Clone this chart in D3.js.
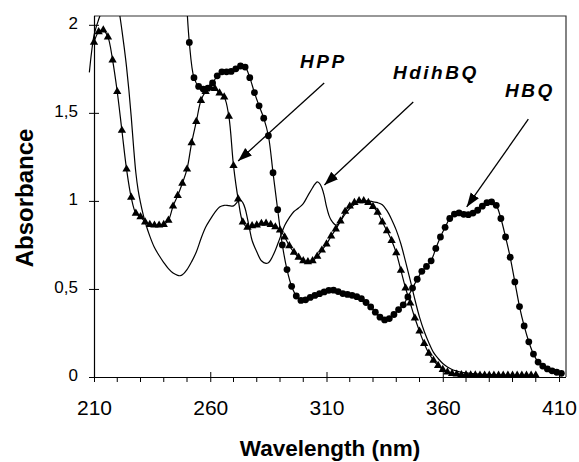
<!DOCTYPE html>
<html>
<head>
<meta charset="utf-8">
<script src="https://cdn.jsdelivr.net/npm/d3@7"></script>
<style>
	body { margin: 0; background: #fff; }
	svg { display: block; font-family: 'Liberation Sans', Arial, sans-serif; }
</style>
</head>
<body>
<svg id="main-vis"></svg>
<script>
// HPP (TRIANGLES), EVERY 2 NM
const hpp_wl = d3.range(210, 401, 2)
const hpp_abs = [
	1.90, 1.96, 1.97, 1.93, 1.80, 1.62, 1.40, 1.18, 1.02, 0.93,
	0.91, 0.88, 0.865, 0.862, 0.862, 0.865, 0.89, 0.97, 1.03, 1.10,
	1.18, 1.33, 1.45, 1.57, 1.62, 1.644, 1.638, 1.612, 1.59, 1.48,
	1.20, 1.01, 0.88, 0.85, 0.858, 0.863, 0.872, 0.873, 0.866, 0.852,
	0.834, 0.795, 0.745, 0.708, 0.68, 0.66, 0.654, 0.66, 0.685, 0.72,
	0.755, 0.80, 0.84, 0.885, 0.94, 0.97, 0.99, 1.0, 1.0, 0.99,
	0.968, 0.935, 0.88, 0.83, 0.775, 0.705, 0.605, 0.505, 0.42, 0.335,
	0.26, 0.19, 0.135, 0.095, 0.065, 0.042, 0.028, 0.02, 0.016, 0.013,
	0.012, 0.011, 0.011, 0.01, 0.01, 0.01, 0.01, 0.01, 0.01, 0.01,
	0.01, 0.01, 0.01, 0.01, 0.01, 0.01
]

// HBQ (CIRCLES), EVERY 2 NM, ODD WAVELENGTHS
const hbq_wl = d3.range(249, 412, 2)
const hbq_abs = [
	2.35, 1.90, 1.70, 1.65, 1.635, 1.64, 1.67, 1.71, 1.733, 1.733,
	1.735, 1.75, 1.766, 1.76, 1.70, 1.615, 1.54, 1.47, 1.37, 1.16,
	0.95, 0.75, 0.61, 0.515, 0.46, 0.435, 0.438, 0.452, 0.463, 0.473,
	0.483, 0.492, 0.493, 0.485, 0.474, 0.469, 0.464, 0.456, 0.445, 0.423,
	0.398, 0.368, 0.34, 0.324, 0.332, 0.355, 0.383, 0.41, 0.455, 0.505,
	0.555, 0.60, 0.628, 0.66, 0.73, 0.795, 0.85, 0.90, 0.925, 0.932,
	0.924, 0.922, 0.931, 0.947, 0.97, 0.99, 0.995, 0.975, 0.90, 0.795,
	0.68, 0.54, 0.40, 0.29, 0.20, 0.13, 0.085, 0.062, 0.046, 0.035,
	0.027, 0.021
]

// HdihBQ (PLAIN LINE)
const hdih_wl = [
	208, 209, 210, 211, 212, 213, 214, 216, 218, 220,
	221, 222, 223, 224, 225, 226, 227, 228, 229, 230,
	231, 232, 234, 236, 238, 240, 242, 244, 246, 247,
	248, 250, 252, 254, 256, 258, 260, 262, 264, 266,
	268, 270, 272, 273, 274, 275, 276, 277, 278, 280,
	282, 284, 285, 286, 288, 290, 292, 294, 296, 298,
	300, 302, 304, 305, 306, 307, 308, 309, 310, 311,
	312, 314, 315, 316, 318, 320, 322, 324, 326, 328,
	330, 332, 334, 336, 338, 340, 342, 344, 346, 348,
	350, 352, 354, 356, 358, 360, 362, 364, 366, 368,
	370, 374, 380, 390, 400
]
const hdih_abs = [
	1.73, 1.85, 1.94, 1.99, 2.03, 2.07, 2.15, 2.25, 2.25, 2.12,
	2.06, 1.97, 1.87, 1.76, 1.63, 1.48, 1.31, 1.16, 1.06, 0.99,
	0.93, 0.88, 0.80, 0.735, 0.69, 0.65, 0.615, 0.59, 0.577, 0.575,
	0.58, 0.61, 0.655, 0.71, 0.785, 0.85, 0.895, 0.935, 0.965, 0.975,
	0.973, 0.972, 0.998, 1.005, 0.99, 0.957, 0.90, 0.834, 0.775, 0.711,
	0.66, 0.645, 0.649, 0.665, 0.72, 0.79, 0.86, 0.905, 0.94, 0.96,
	0.985, 1.03, 1.075, 1.095, 1.108, 1.10, 1.075, 1.03, 0.967, 0.92,
	0.891, 0.863, 0.868, 0.885, 0.925, 0.957, 0.98, 0.995, 1.0, 1.0,
	0.995, 0.99, 0.978, 0.945, 0.895, 0.834, 0.755, 0.655, 0.55, 0.44,
	0.34, 0.26, 0.195, 0.14, 0.105, 0.077, 0.057, 0.043, 0.034, 0.027,
	0.023, 0.018, 0.013, 0.008, 0.005
]

// TICKS
const x_ticks = [210, 260, 310, 360, 410]
const x_minor = d3.range(220, 411, 10)
const y_ticks = [0, 0.5, 1, 1.5, 2]

// ANNOTATIONS: LABEL, TEXT ANCHOR (wl, abs), ARROW START, ARROW TIP
const labels = [
	{ name: 'HPP', at: [298.6, 1.752], from: [309.0, 1.67], to: [272.0, 1.226] },
	{ name: 'HdihBQ', at: [338.6, 1.694], from: [347.3, 1.562], to: [309.1, 1.09] },
	{ name: 'HBQ', at: [386.8, 1.59], from: [396.8, 1.464], to: [370.3, 0.966] }
]

function DOMLoad () {
	const width = 579
	const height = 462
	const plot = { left: 94, right: 566, top: 16, bottom: 377 }

	const svg = d3.select('svg#main-vis')
	.attr('width', width)
	.attr('height', height)

	const x = d3.scaleLinear().domain([210, 413]).range([plot.left, plot.right])
	const y = d3.scaleLinear().domain([0, 2.05]).range([plot.bottom, plot.top])

	const defs = svg.append('defs')
	defs.append('clipPath').attr('id', 'clip')
	.append('rect')
	.attr('x', 0).attr('y', plot.top)
	.attr('width', plot.right).attr('height', height - plot.top)

	defs.append('marker')
	.attr('id', 'arrow')
	.attr('markerUnits', 'userSpaceOnUse')
	.attr('markerWidth', 16).attr('markerHeight', 12)
	.attr('refX', 14).attr('refY', 5)
	.attr('orient', 'auto')
	.append('path')
	.attr('d', 'M0,0 L14,5 L0,10 Z')
	.attr('fill', '#000')

	// FRAME (TOP + RIGHT)
	svg.append('path')
	.attr('d', `M${plot.left},${plot.top} H${plot.right} V${plot.bottom}`)
	.attr('fill', 'none')
	.attr('stroke', '#333')
	.attr('stroke-width', 1.2)

	// X AXIS
	const xAxis = svg.append('g')
	.attr('transform', `translate(0,${plot.bottom})`)
	xAxis.selectAll('line.minor')
	.data(x_minor.filter(d => !x_ticks.includes(d)))
	.join('line')
	.attr('class', 'minor')
	.attr('x1', d => x(d)).attr('x2', d => x(d))
	.attr('y1', 0).attr('y2', 5)
	.attr('stroke', '#000')
	xAxis.call(d3.axisBottom(x).tickValues(x_ticks).tickSize(5).tickPadding(18).tickSizeOuter(0))
	xAxis.select('.domain').attr('d', `M${plot.left},0.5H${plot.right}`).attr('stroke-width', 1.2)
	xAxis.selectAll('.tick line').attr('y1', -5).attr('y2', 5)
	xAxis.selectAll('.tick text')
	.attr('font-size', 21)
	.attr('font-family', "'Liberation Sans', Arial, sans-serif")
	.attr('fill', '#000')

	// Y AXIS
	const yAxis = svg.append('g')
	.attr('transform', `translate(${plot.left},0)`)
	.call(d3.axisLeft(y).tickValues(y_ticks).tickSize(5).tickPadding(11).tickSizeOuter(0)
		.tickFormat(d => String(d).replace('.', ',')))
	yAxis.select('.domain').attr('d', `M0.5,${plot.bottom}V${y(2.05)}`).attr('stroke-width', 1.2)
	yAxis.selectAll('.tick line').attr('x1', 5).attr('x2', -5)
	yAxis.selectAll('.tick text')
	.attr('font-size', 17)
	.attr('dy', '0.2em')
	.attr('font-family', "'Liberation Sans', Arial, sans-serif")
	.attr('fill', '#000')

	// AXIS TITLES
	svg.append('text')
	.attr('x', (plot.left + plot.right) / 2)
	.attr('y', 456)
	.attr('text-anchor', 'middle')
	.attr('font-size', 22.5)
	.attr('font-weight', 'bold')
	.text('Wavelength (nm)')

	svg.append('text')
	.attr('transform', 'translate(33,198) rotate(-90)')
	.attr('text-anchor', 'middle')
	.attr('font-size', 24)
	.attr('font-weight', 'bold')
	.text('Absorbance')

	// SERIES
	const g = svg.append('g').attr('clip-path', 'url(#clip)')
	const line = d3.line()
	.x(d => x(d[0]))
	.y(d => y(d[1]))
	.curve(d3.curveCatmullRom.alpha(0.5))

	const hdih = hdih_wl.map((d, i) => [d, hdih_abs[i]])
	const hpp = hpp_wl.map((d, i) => [d, hpp_abs[i]])
	const hbq = hbq_wl.map((d, i) => [d, hbq_abs[i]])

	g.append('path').datum(hdih)
	.attr('d', line).attr('fill', 'none').attr('stroke', '#000').attr('stroke-width', 1.2)
	g.append('path').datum(hpp)
	.attr('d', line).attr('fill', 'none').attr('stroke', '#000').attr('stroke-width', 1.2)
	g.append('path').datum(hbq)
	.attr('d', line).attr('fill', 'none').attr('stroke', '#000').attr('stroke-width', 1.2)

	const tri = d3.symbol().type(d3.symbolTriangle).size(30)
	g.selectAll('path.tri')
	.data(hpp)
	.join('path')
	.attr('class', 'tri')
	.attr('transform', d => `translate(${x(d[0])},${y(d[1])})`)
	.attr('d', tri)
	.attr('fill', '#000')

	g.selectAll('circle.hbq')
	.data(hbq)
	.join('circle')
	.attr('class', 'hbq')
	.attr('cx', d => x(d[0]))
	.attr('cy', d => y(d[1]))
	.attr('r', 3.4)
	.attr('fill', '#000')

	// LABELS AND ARROWS
	svg.selectAll('line.arrow')
	.data(labels)
	.join('line')
	.attr('class', 'arrow')
	.attr('x1', d => x(d.from[0])).attr('y1', d => y(d.from[1]))
	.attr('x2', d => x(d.to[0])).attr('y2', d => y(d.to[1]))
	.attr('stroke', '#000')
	.attr('stroke-width', 1.3)
	.attr('marker-end', 'url(#arrow)')

	svg.selectAll('text.label')
	.data(labels)
	.join('text')
	.attr('class', 'label')
	.attr('x', d => x(d.at[0]))
	.attr('y', d => y(d.at[1]))
	.attr('font-size', 19)
	.attr('font-weight', 'bold')
	.attr('font-style', 'italic')
	.attr('letter-spacing', 2.5)
	.text(d => d.name)
}

if (document.readyState === 'loading') {
	document.addEventListener('DOMContentLoaded', DOMLoad)
} else {
	DOMLoad()
}
</script>
</body>
</html>
